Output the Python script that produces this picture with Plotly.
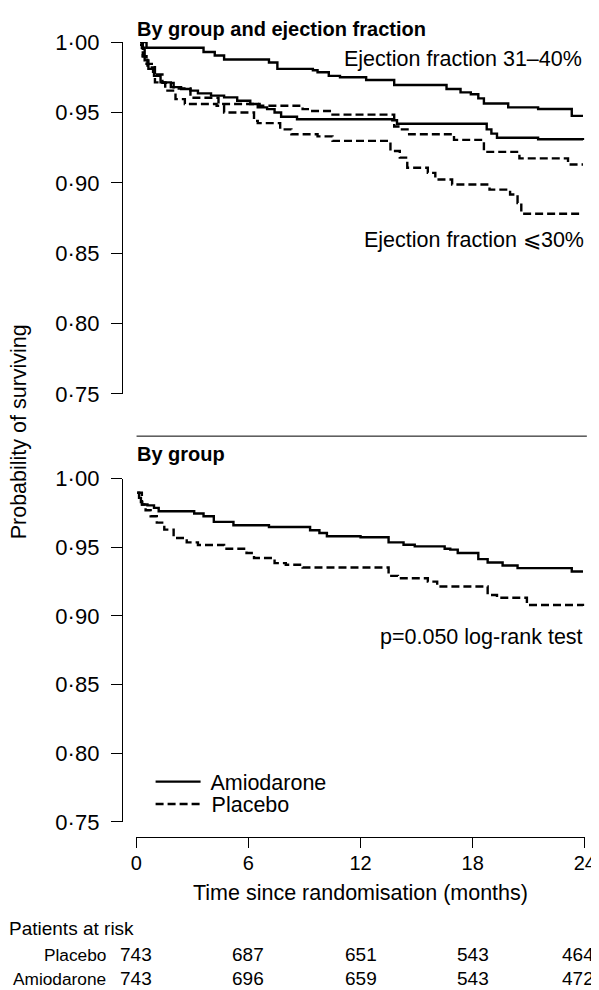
import plotly.graph_objects as go

# ---------------- data (months, survival probability) ----------------
# Top panel: by group and ejection fraction
amio_ef3140_t = [0.3, 0.55, 3.6, 4.2, 4.7, 7.1, 7.55, 9.45, 9.7, 10.3, 10.9, 12.3, 13.8, 16.6, 17.35, 17.9, 18.3, 18.6, 19.9, 21.5, 23.3, 23.9]
amio_ef3140_s = [1.000, 0.996, 0.993, 0.9905, 0.9876, 0.9855, 0.981, 0.980, 0.9786, 0.976, 0.975, 0.9731, 0.9695, 0.9667, 0.9643, 0.963, 0.960, 0.9564, 0.9536, 0.9525, 0.9476, 0.9476]

amio_ef30_t = [0.2, 0.3, 0.45, 0.65, 0.95, 1.3, 1.85, 2.4, 2.9, 3.3, 4.0, 4.7, 5.4, 6.1, 6.5, 7.0, 7.4, 7.75, 8.6, 13.7, 13.95, 18.75, 19.0, 19.3, 21.5, 23.9]
amio_ef30_s = [1.0, 0.996, 0.987, 0.981, 0.976, 0.9714, 0.968, 0.9667, 0.9655, 0.9636, 0.962, 0.9607, 0.9583, 0.956, 0.9536, 0.9524, 0.950, 0.947, 0.9452, 0.9445, 0.942, 0.938, 0.935, 0.932, 0.931, 0.9305]

plac_ef3140_t = [0.2, 0.35, 0.6, 0.9, 1.4, 2.0, 2.9, 4.4, 6.6, 8.9, 9.3, 10.5, 13.8, 14.1, 14.6, 17.0, 18.6, 20.5, 23.1, 23.9]
plac_ef3140_s = [1.0, 0.990, 0.982, 0.977, 0.971, 0.967, 0.9605, 0.956, 0.9548, 0.9524, 0.951, 0.9485, 0.940, 0.938, 0.9345, 0.9305, 0.922, 0.9174, 0.913, 0.913]

plac_ef30_t = [0.2, 0.35, 0.55, 1.0, 1.55, 2.1, 2.6, 4.3, 4.7, 6.3, 6.5, 7.7, 8.3, 9.7, 10.5, 13.6, 14.1, 14.5, 15.6, 16.0, 16.9, 18.9, 20.0, 20.4, 20.6, 23.9]
plac_ef30_s = [0.998, 0.990, 0.9845, 0.9714, 0.9655, 0.9595, 0.956, 0.9548, 0.950, 0.944, 0.9424, 0.938, 0.9345, 0.933, 0.9298, 0.9226, 0.9179, 0.9107, 0.9071, 0.9024, 0.8988, 0.8952, 0.8917, 0.8857, 0.878, 0.878]

# Bottom panel: by group
amio_t = [0.05, 0.15, 0.25, 0.32, 0.6, 0.95, 1.2, 3.1, 3.6, 4.15, 5.2, 7.1, 9.3, 9.8, 10.2, 12.0, 13.5, 14.3, 14.9, 16.5, 16.8, 17.2, 18.3, 18.8, 19.6, 20.4, 23.3, 23.9]
amio_s = [0.9897, 0.986, 0.983, 0.9812, 0.9805, 0.9787, 0.9763, 0.9746, 0.9726, 0.9685, 0.9661, 0.9648, 0.9624, 0.9604, 0.958, 0.9573, 0.9536, 0.9519, 0.9507, 0.949, 0.9483, 0.9458, 0.9414, 0.9389, 0.9367, 0.9348, 0.9324, 0.9324]

plac_t = [0.05, 0.3, 0.5, 0.77, 1.1, 1.5, 2.0, 2.7, 3.3, 4.7, 5.9, 6.3, 7.4, 8.0, 8.9, 13.5, 14.0, 15.6, 16.1, 18.8, 19.3, 20.9, 23.9]
plac_s = [0.9897, 0.9812, 0.977, 0.9726, 0.968, 0.9629, 0.9568, 0.9536, 0.9517, 0.949, 0.9458, 0.9422, 0.9385, 0.9373, 0.9353, 0.9292, 0.9275, 0.925, 0.9214, 0.9153, 0.9133, 0.908, 0.9072]

x_ticks = [0, 6, 12, 18, 24]
y_ticks = [0.75, 0.80, 0.85, 0.90, 0.95, 1.00]
y_ticktext = ["0·75", "0·80", "0·85", "0·90", "0·95", "1·00"]

risk_groups = ["Placebo", "Amiodarone"]
risk_placebo = [743, 687, 651, 543, 464]
risk_amio = [743, 696, 659, 543, 472]

# ---------------- figure ----------------
# Positions below are given in pixels of the final picture; they are mapped
# to figure pixels through the observed page scale / offset.
SC, OX, OY = 0.97, 13.8, 23.0
W, H = 625, 1000
FONT = "Liberation Sans, Arial, sans-serif"
FS = 21.5      # main text
FS_TK = 22     # y tick labels
FS_XT = 20     # x tick labels
FS_T = 20      # bold panel titles
FS_R = 19      # at-risk numbers
FS_RL = 17.3   # at-risk row labels

def px(x):
    return (x - OX) / SC / W

def py(y):
    return 1 - (y - OY) / SC / H

X0, X24 = 135.7, 583.0

fig = go.Figure()

solid = dict(color="black", width=2.4)
dashed = dict(color="black", width=2.4, dash="8px,4px")

fig.add_trace(go.Scatter(x=amio_ef3140_t, y=amio_ef3140_s, mode="lines", line=solid, line_shape="hv",
                         xaxis="x", yaxis="y", showlegend=False))
fig.add_trace(go.Scatter(x=amio_ef30_t, y=amio_ef30_s, mode="lines", line=solid, line_shape="hv",
                         xaxis="x", yaxis="y", showlegend=False))
fig.add_trace(go.Scatter(x=plac_ef3140_t, y=plac_ef3140_s, mode="lines", line=dashed, line_shape="hv",
                         xaxis="x", yaxis="y", showlegend=False))
fig.add_trace(go.Scatter(x=plac_ef30_t, y=plac_ef30_s, mode="lines", line=dashed, line_shape="hv",
                         xaxis="x", yaxis="y", showlegend=False))

fig.add_trace(go.Scatter(x=amio_t, y=amio_s, mode="lines", line=solid, line_shape="hv",
                         xaxis="x", yaxis="y2", name=" Amiodarone", legend="legend"))
fig.add_trace(go.Scatter(x=plac_t, y=plac_s, mode="lines", line=dashed, line_shape="hv",
                         xaxis="x", yaxis="y2", name=" Placebo", legend="legend2"))

yaxis_common = dict(
    range=[0.75, 1.0], tickvals=y_ticks, ticktext=y_ticktext,
    showline=True, linecolor="black", linewidth=1,
    ticks="outside", ticklen=11, tickwidth=1, tickcolor="black",
    ticklabelstandoff=7,
    showgrid=False, zeroline=False, anchor="free", position=px(121.3),
    tickfont=dict(family=FONT, size=FS_TK, color="black"),
)

leg_common = dict(xanchor="left", yanchor="middle", itemwidth=45,
                  font=dict(family=FONT, size=FS, color="black"),
                  bgcolor="rgba(0,0,0,0)", borderwidth=0)

fig.update_layout(
    width=W, height=H,
    margin=dict(l=0, r=0, t=0, b=0),
    paper_bgcolor="white", plot_bgcolor="white",
    font=dict(family=FONT, size=FS, color="black"),
    xaxis=dict(
        domain=[px(X0), px(X24)], range=[0, 24], tickvals=x_ticks,
        showline=True, linecolor="black", linewidth=1,
        ticks="outside", ticklen=10, tickwidth=1, tickcolor="black",
        ticklabelstandoff=-2,
        showgrid=False, zeroline=False, anchor="free", position=py(836),
        tickfont=dict(family=FONT, size=FS_XT, color="black"),
    ),
    yaxis=dict(domain=[py(395), py(45)], **yaxis_common),
    yaxis2=dict(domain=[py(820.8), py(479.3)], **yaxis_common),
    legend=dict(x=px(150), y=py(780.7), **leg_common),
    legend2=dict(x=px(150), y=py(803), **leg_common),
    showlegend=True,
)

def ann(text, x, y, xanchor="left", yanchor="middle", size=FS, angle=0):
    fig.add_annotation(text=text, x=px(x), y=py(y), xref="paper", yref="paper",
                       xanchor=xanchor, yanchor=yanchor, showarrow=False, textangle=angle,
                       font=dict(family=FONT, size=size, color="black"))

ann("<b>By group and ejection fraction</b>", 134, 32, size=FS_T)
ann("<b>By group</b>", 134, 455, size=FS_T)
ann("Ejection fraction 31–40%", 582, 62, xanchor="right")
ann("Ejection fraction ⩽30%", 584, 242, xanchor="right")
ann("p=0.050 log-rank test", 583, 637, xanchor="right")
ann("Probability of surviving", 19, 433, xanchor="center", angle=-90)
ann("Time since randomisation (months)", (X0 + X24) / 2, 892, xanchor="center")
ann("Patients at risk", 7, 927, size=FS_R)

row_y = [953, 977]
for name, vals, yy in zip(risk_groups, [risk_placebo, risk_amio], row_y):
    ann(name, 108, yy, xanchor="right", size=FS_RL)
    for i, (t, v) in enumerate(zip(x_ticks, vals)):
        if i == len(x_ticks) - 1:
            # last column kept inside the right edge of the picture
            ann(str(v), 594, yy, xanchor="right", size=FS_R)
        else:
            ann(str(v), X0 + t * (X24 - X0) / 24, yy, xanchor="center", size=FS_R)

fig.add_shape(type="line", xref="paper", yref="paper", x0=px(136), x1=px(585), y0=py(437), y1=py(437),
              line=dict(color="black", width=1))

fig.write_html("out.html")
